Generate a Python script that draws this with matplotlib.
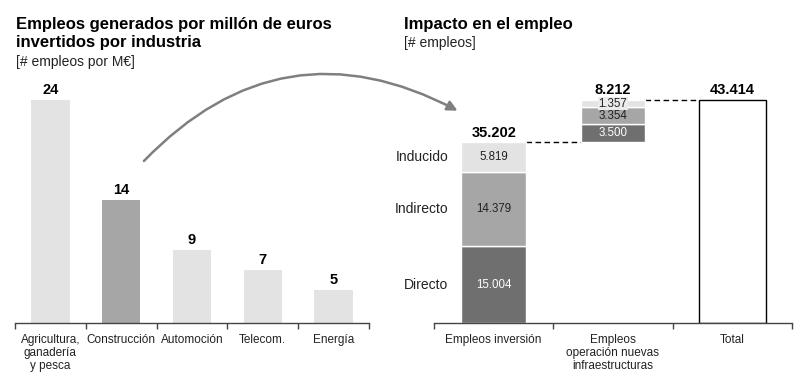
import matplotlib
matplotlib.use("Agg")
import matplotlib.pyplot as plt
from matplotlib.patches import FancyArrowPatch

plt.rcParams['font.family'] = ['Liberation Sans', 'DejaVu Sans']

# ---- data ----
industries = ["Agricultura,\nganadería\ny pesca", "Construcción", "Automoción", "Telecom.", "Energía"]
jobs_per_meur = [24, 14, 9, 7, 5]
industry_colors = ["#e3e3e3", "#a6a6a6", "#e3e3e3", "#e3e3e3", "#e3e3e3"]

impact_cats = ["Empleos inversión", "Empleos\noperación nuevas\ninfraestructuras", "Total"]
segment_names = ["Directo", "Indirecto", "Inducido"]
inversion_vals = [15004, 14379, 5819]
operacion_vals = [3500, 3354, 1357]
inversion_total = 35202
operacion_total = 8212
grand_total = 43414
inversion_labels = ["15.004", "14.379", "5.819"]
operacion_labels = ["3.500", "3.354", "1.357"]
total_labels = ["35.202", "8.212", "43.414"]

seg_colors = ["#6f6f6f", "#a6a6a6", "#e3e3e3"]
seg_text_colors = ["white", "#222222", "#222222"]

W, H = 802, 388
fig = plt.figure(figsize=(W / 100, H / 100), dpi=100)

def fx(px):
    return px / W

def fy(py):
    return 1 - py / H

# ---- left chart ----
axL = fig.add_axes([fx(15), fy(323), fx(354), (323 - 83) / H])
xs = range(len(industries))
axL.bar(xs, jobs_per_meur, width=0.54, color=industry_colors, zorder=2)
for x, v in zip(xs, jobs_per_meur):
    axL.annotate(str(v), (x, v), xytext=(0, 2.5), textcoords="offset points",
                 ha="center", va="bottom", fontsize=10.5, fontweight="bold")
axL.set_xlim(-0.5, len(industries) - 0.5)
axL.set_ylim(1.7, 25.7)

# ---- right chart ----
axR = fig.add_axes([fx(434), fy(323), fx(358), (323 - 83) / H])
bw = 0.54
bottom = 0
for v, c, lab, tc, name in zip(inversion_vals, seg_colors, inversion_labels, seg_text_colors, segment_names):
    axR.bar(0, v, bottom=bottom, width=bw, color=c, edgecolor="white", linewidth=1, zorder=2)
    axR.text(0, bottom + v / 2, lab, ha="center", va="center", fontsize=8.3, color=tc, zorder=3)
    axR.text(-0.5 + 0.12, bottom + v / 2, name, ha="right", va="center", fontsize=10, color="#222222")
    bottom += v
bottom = inversion_total
for i, (v, c, lab, tc) in enumerate(zip(operacion_vals, seg_colors, operacion_labels, seg_text_colors)):
    axR.bar(1, v, bottom=bottom, width=bw, color=c, edgecolor="white", linewidth=1, zorder=2)
    if i == 2:
        axR.text(1, bottom + v / 2, lab, ha="center", va="center", fontsize=8.3, color=tc, zorder=4,
                 bbox=dict(boxstyle="square,pad=0.05", facecolor="#ebebeb", edgecolor="none"))
    else:
        axR.text(1, bottom + v / 2, lab, ha="center", va="center", fontsize=8.3, color=tc, zorder=3)
    bottom += v
axR.bar(2, grand_total, width=0.56, facecolor="white", edgecolor="black", linewidth=1, zorder=2)

tops = [inversion_total, grand_total, grand_total]
for x, t, lab in zip(range(3), tops, total_labels):
    axR.annotate(lab, (x, t), xytext=(0, 2), textcoords="offset points",
                 ha="center", va="bottom", fontsize=10.5, fontweight="bold")

axR.plot([bw / 2, 1 - bw / 2], [inversion_total, inversion_total], color="black",
         lw=1, dashes=(4, 2.5), zorder=1)
axR.plot([1 + bw / 2, 2 - 0.28], [grand_total, grand_total], color="black",
         lw=1, dashes=(4, 2.5), zorder=1)
axR.set_xlim(-0.5, 2.5)
axR.set_ylim(0, 46780)

# ---- axis styling ----
for ax, cats in ((axL, industries), (axR, impact_cats)):
    for s in ("top", "right", "left"):
        ax.spines[s].set_visible(False)
    ax.spines["bottom"].set_color("#444444")
    ax.spines["bottom"].set_linewidth(1)
    ax.set_yticks([])
    n = len(cats)
    ax.set_xticks(range(n))
    ax.set_xticklabels(cats, fontsize=8.5, color="#222222", linespacing=1.1)
    ax.tick_params(axis="x", which="major", length=0, pad=8)
    ax.set_xticks([i - 0.5 for i in range(n + 1)], minor=True)
    ax.tick_params(axis="x", which="minor", length=4, width=1, color="#444444", direction="out")
    ax.patch.set_alpha(0)

# ---- titles ----
fig.text(fx(16), fy(17), "Empleos generados por millón de euros", fontsize=12,
         fontweight="bold", va="top", ha="left")
fig.text(fx(16), fy(35), "invertidos por industria", fontsize=12,
         fontweight="bold", va="top", ha="left")
fig.text(fx(16), fy(55), "[# empleos por M€]", fontsize=10, va="top", ha="left", color="#222222")
fig.text(fx(404), fy(17), "Impacto en el empleo", fontsize=12,
         fontweight="bold", va="top", ha="left")
fig.text(fx(404), fy(36), "[# empleos]", fontsize=10, va="top", ha="left", color="#222222")

# ---- curved arrow ----
arrow = FancyArrowPatch((fx(142), fy(163)), (fx(460), fy(112)), transform=fig.transFigure,
                        connectionstyle="arc3,rad=-0.38", arrowstyle="-|>,head_length=6,head_width=3",
                        color="#7f7f7f", lw=1.8, mutation_scale=1)
fig.patches.append(arrow)

fig.savefig("out.png", dpi=100)
